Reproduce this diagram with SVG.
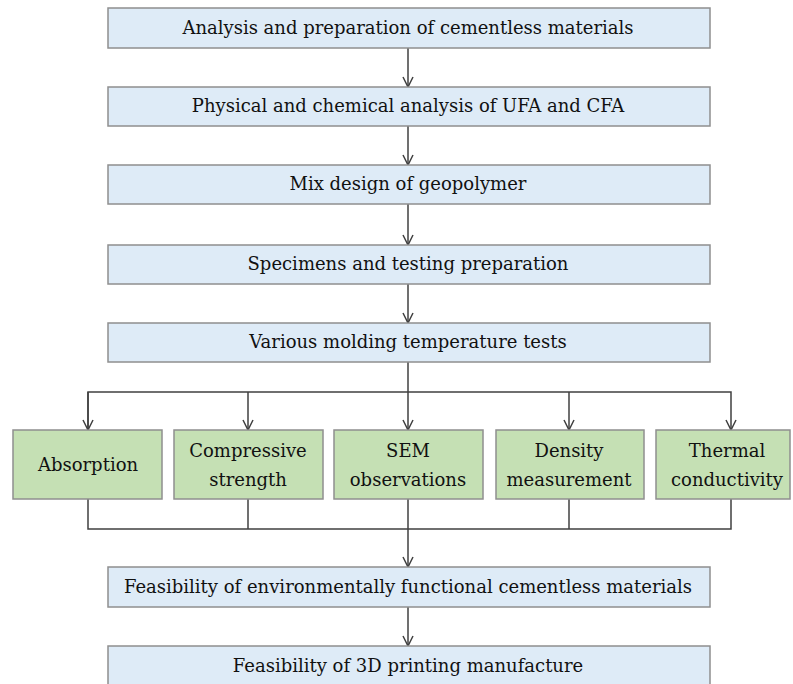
<svg xmlns="http://www.w3.org/2000/svg" width="793" height="684" viewBox="0 0 793 684">
<style>
.b{fill:#deebf7;stroke:#8f8f8f;stroke-width:1.5}
.g{fill:#c5e0b4;stroke:#8f8f8f;stroke-width:1.5}
.t{font-family:'DejaVu Serif','Liberation Serif',serif;font-size:18px;fill:#111;text-anchor:middle}
.c{fill:none;stroke:#404040;stroke-width:1.5}
</style>
<defs>
<marker id="ah" viewBox="0 0 12 12" refX="11" refY="6" markerWidth="12" markerHeight="12" markerUnits="userSpaceOnUse" orient="auto">
<path d="M1,1 L11,6 L1,11" fill="none" stroke="#404040" stroke-width="1.5"/>
</marker>
</defs>
<rect width="793" height="684" fill="#fff"/>
<g id="connectors">
<line class="c" x1="408" y1="48" x2="408" y2="87" marker-end="url(#ah)"/>
<line class="c" x1="408" y1="126" x2="408" y2="165" marker-end="url(#ah)"/>
<line class="c" x1="408" y1="204" x2="408" y2="245" marker-end="url(#ah)"/>
<line class="c" x1="408" y1="284" x2="408" y2="323" marker-end="url(#ah)"/>
<line class="c" x1="408" y1="362" x2="408" y2="430" marker-end="url(#ah)"/>
<polyline class="c" points="88,430 88,392 731,392 731,430" marker-end="url(#ah)"/>
<line class="c" x1="88" y1="392" x2="88" y2="430" marker-end="url(#ah)"/>
<line class="c" x1="248" y1="392" x2="248" y2="430" marker-end="url(#ah)"/>
<line class="c" x1="569" y1="392" x2="569" y2="430" marker-end="url(#ah)"/>
<polyline class="c" points="88,499 88,529 731,529 731,499"/>
<line class="c" x1="248" y1="499" x2="248" y2="529"/>
<line class="c" x1="569" y1="499" x2="569" y2="529"/>
<line class="c" x1="408" y1="499" x2="408" y2="567" marker-end="url(#ah)"/>
<line class="c" x1="408" y1="607" x2="408" y2="646" marker-end="url(#ah)"/>
</g>
<g id="n1"><rect class="b" x="108" y="8" width="602" height="40"/><text class="t" x="408" y="34">Analysis and preparation of cementless materials</text></g>
<g id="n2"><rect class="b" x="108" y="87" width="602" height="39"/><text class="t" x="408" y="112">Physical and chemical analysis of UFA and CFA</text></g>
<g id="n3"><rect class="b" x="108" y="165" width="602" height="39"/><text class="t" x="408" y="190">Mix design of geopolymer</text></g>
<g id="n4"><rect class="b" x="108" y="245" width="602" height="39"/><text class="t" x="408" y="270">Specimens and testing preparation</text></g>
<g id="n5"><rect class="b" x="108" y="323" width="602" height="39"/><text class="t" x="408" y="348">Various molding temperature tests</text></g>
<g id="g1"><rect class="g" x="13" y="430" width="149" height="69"/><text class="t" x="88" y="471">Absorption</text></g>
<g id="g2"><rect class="g" x="174" y="430" width="149" height="69"/><text class="t" x="248" y="457">Compressive</text><text class="t" x="248" y="486">strength</text></g>
<g id="g3"><rect class="g" x="334" y="430" width="149" height="69"/><text class="t" x="408" y="457">SEM</text><text class="t" x="408" y="486">observations</text></g>
<g id="g4"><rect class="g" x="496" y="430" width="148" height="69"/><text class="t" x="569" y="457">Density</text><text class="t" x="569" y="486">measurement</text></g>
<g id="g5"><rect class="g" x="656" y="430" width="134" height="69"/><text class="t" x="727" y="457">Thermal</text><text class="t" x="727" y="486">conductivity</text></g>
<g id="n6"><rect class="b" x="108" y="567" width="602" height="40"/><text class="t" x="408" y="593">Feasibility of environmentally functional cementless materials</text></g>
<g id="n7"><rect class="b" x="108" y="646" width="602" height="45"/><text class="t" x="408" y="672">Feasibility of 3D printing manufacture</text></g>
</svg>
